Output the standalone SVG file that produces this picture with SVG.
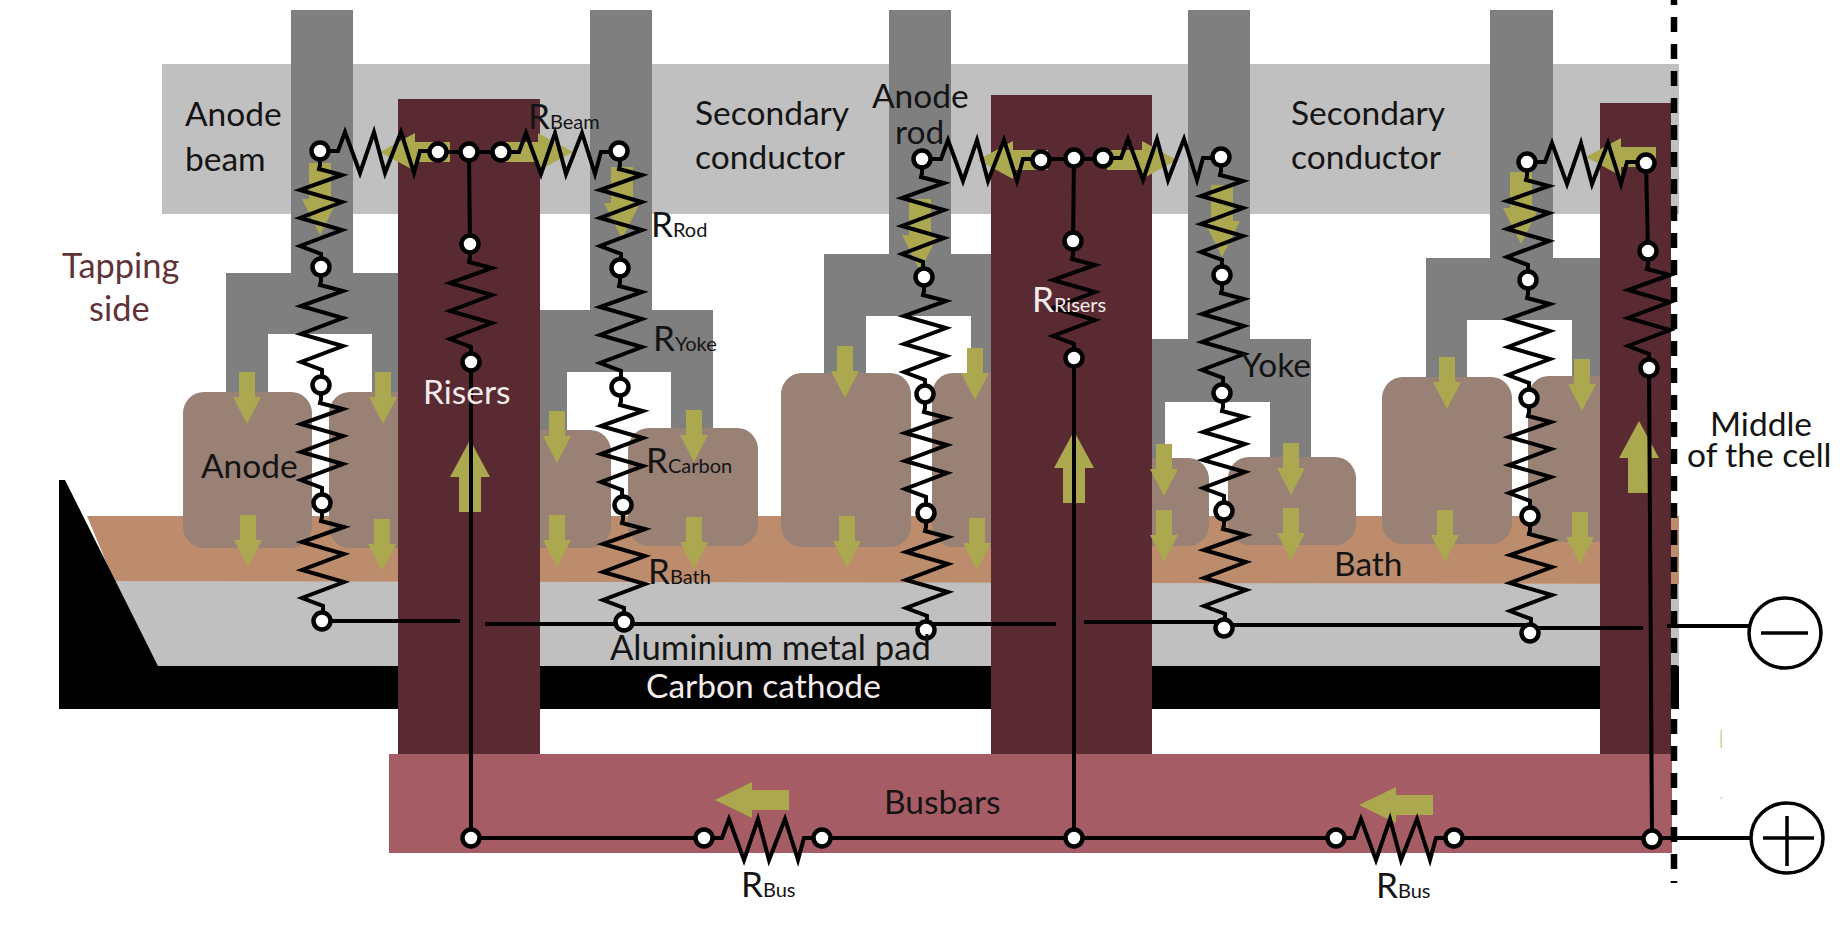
<svg xmlns="http://www.w3.org/2000/svg" width="1844" height="926" viewBox="0 0 1844 926">
<style>
text{font-family:"Lato","Open Sans","Liberation Sans",sans-serif;font-size:33.5px;fill:#141414}
.sub{font-size:20px}
.big{font-size:35px}
.lt{fill:#f4ecec}
.tap{fill:#5f3339;font-size:34.4px}
.beam{fill:#c0c0c0}
.rod{fill:#7f7f7f}
.anode{fill:#998176}
.bath{fill:#bc8c6c}
.riser{fill:#5a2a32}
.bus{fill:#a65c64}
.ar{fill:#aba850}
.w{fill:none;stroke:#000;stroke-width:4;stroke-linejoin:miter}
.n{fill:#fff;stroke:#000;stroke-width:4.5}
.t{fill:none;stroke:#000;stroke-width:3.5}
</style>
<defs>
<path id="dn" class="ar" d="M-8 0H8V25H14L0 52L-14 25H-8Z"/>
<path id="up" class="ar" d="M-11 72H11V37H20L0 0L-20 37H-11Z"/>
<path id="al" class="ar" d="M0 0L35 -19V-10H70V10H35V19Z"/>
<path id="ab" class="ar" d="M0 0L37 -18V-10H74V10H37V18Z"/>
<path id="rd" class="ar" d="M-11 0H11V36H18L0 72L-18 36H-11Z"/>
<path id="rv" class="w" d="M0 0V14L-1 18L22 24L-20 39L22 51L-20 67L22 79L-20 95L1 103V117"/>
<path id="rh" class="w" d="M0 0H18L25 -19L40 22L54 -19L65 22L81 -19L94 22L100 0H118"/>
<circle id="o" class="n" r="8.5"/>
</defs>
<rect width="1844" height="926" fill="#fff"/>
<g id="aluminium-pad"><path fill="#c0c0c0" d="M114 580L1679 584V666H158Z"/></g>
<g id="bath"><path class="bath" d="M87 516H1679V584L114 581Z"/></g>
<g id="anode-beam"><rect class="beam" x="162" y="64" width="1517" height="150"/></g>
<g id="anode-assembly-1">
<rect class="rod" x="291" y="10" width="62" height="264"/>
<path class="rod" d="M226 273H398V392H372V334H268V392H226Z"/>
<rect class="anode" x="183" y="392" width="129" height="156" rx="21"/>
<rect class="anode" x="329" y="392" width="100" height="156" rx="21"/>
</g>
<g id="anode-assembly-2">
<rect class="rod" x="590" y="10" width="62" height="301"/>
<path class="rod" d="M530 310H713V430H671V372H567V430H530Z"/>
<rect class="anode" x="510" y="430" width="101" height="118" rx="21"/>
<rect class="anode" x="628" y="428" width="130" height="118" rx="21"/>
</g>
<g id="anode-assembly-3">
<rect class="rod" x="889" y="10" width="62" height="245"/>
<path class="rod" d="M824 254H1000V373H971V316H866V373H824Z"/>
<rect class="anode" x="781" y="373" width="130" height="174" rx="21"/>
<rect class="anode" x="932" y="373" width="100" height="174" rx="21"/>
</g>
<g id="anode-assembly-4">
<rect class="rod" x="1188" y="10" width="62" height="330"/>
<path class="rod" d="M1140 339H1311V458H1270V402H1165V460H1140Z"/>
<rect class="anode" x="1120" y="458" width="89" height="88" rx="21"/>
<rect class="anode" x="1228" y="457" width="128" height="88" rx="21"/>
</g>
<g id="anode-assembly-5">
<rect class="rod" x="1490" y="10" width="63" height="249"/>
<path class="rod" d="M1426 258H1610V377H1572V320H1467V377H1426Z"/>
<rect class="anode" x="1382" y="377" width="130" height="167" rx="21"/>
<rect class="anode" x="1528" y="376" width="100" height="166" rx="21"/>
</g>
<g id="cathode"><path fill="#000" d="M59 480H65L158 666H1679V709H59Z"/></g>
<g id="riser-1"><rect class="riser" x="398" y="99" width="142" height="656"/></g>
<g id="riser-2"><rect class="riser" x="991" y="95" width="161" height="660"/></g>
<g id="riser-3"><rect class="riser" x="1600" y="103" width="71" height="652"/></g>
<g id="busbar"><rect class="bus" x="389" y="754" width="1283" height="99"/></g>
<g id="current-arrows">
<use href="#dn" x="247" y="372"/><use href="#dn" x="248" y="515"/>
<use href="#dn" x="383" y="372"/><use href="#dn" x="382" y="519"/>
<use href="#dn" x="557" y="411"/><use href="#dn" x="557" y="515"/>
<use href="#dn" x="694" y="410"/><use href="#dn" x="694" y="517"/>
<use href="#dn" x="845" y="346"/><use href="#dn" x="847" y="516"/>
<use href="#dn" x="975" y="348"/><use href="#dn" x="977" y="518"/>
<use href="#dn" x="1164" y="444"/><use href="#dn" x="1164" y="510"/>
<use href="#dn" x="1291" y="443"/><use href="#dn" x="1291" y="508"/>
<use href="#dn" x="1447" y="357"/><use href="#dn" x="1445" y="510"/>
<use href="#dn" x="1582" y="359"/><use href="#dn" x="1580" y="512"/>
<use href="#up" x="470" y="440"/><use href="#up" x="1074" y="431"/><use href="#up" x="1639" y="421"/>
<use href="#ab" x="715" y="800"/><use href="#ab" x="1359" y="805"/>
<use href="#al" x="380" y="152"/><use href="#al" transform="translate(573 152) scale(-1 1)"/>
<use href="#al" x="978" y="160"/><use href="#al" transform="translate(1177 160) scale(-1 1)"/>
<use href="#al" x="1586" y="157"/>
<use href="#rd" x="320" y="163"/><use href="#rd" x="622" y="167"/>
<use href="#rd" x="920" y="199"/><use href="#rd" x="1222" y="185"/>
<use href="#rd" x="1521" y="172"/>
</g>
<g id="connectors">
<path class="w" d="M322 621H460M485 624H1056M1084 622H1224M1224 625H1530M1530 628H1643M1667 626H1749M469 152L470 244M471 362V838M1074 158L1073 241M1074 358V838M1646 163L1648 251M1649 368L1652 839M471 838H704M822 838H1336M1454 838H1750M438 152H501M1041 159H1103"/>
<use href="#rh" x="320" y="151"/><use href="#rh" x="501" y="152"/>
<use href="#rh" x="923" y="159"/><use href="#rh" x="1103" y="158"/>
<use href="#rh" x="1527" y="162"/>
<use href="#rh" x="704" y="838"/><use href="#rh" x="1336" y="838"/>
<use href="#rv" x="320" y="151"/><use href="#rv" x="321" y="267"/><use href="#rv" x="321" y="385"/><use href="#rv" x="322" y="503"/>
<use href="#rv" x="620" y="151"/><use href="#rv" x="620" y="268"/><use href="#rv" x="621" y="387"/><use href="#rv" x="623" y="505"/>
<use href="#rv" x="922" y="159"/><use href="#rv" x="924" y="277"/><use href="#rv" x="925" y="394"/><use href="#rv" x="926" y="513"/>
<use href="#rv" x="1221" y="157"/><use href="#rv" x="1222" y="275"/><use href="#rv" x="1223" y="393"/><use href="#rv" x="1224" y="511"/>
<use href="#rv" x="1527" y="162"/><use href="#rv" x="1528" y="280"/><use href="#rv" x="1529" y="398"/><use href="#rv" x="1530" y="516"/>
<use href="#rv" x="470" y="244"/><use href="#rv" x="1073" y="241"/><use href="#rv" x="1648" y="251"/>
</g>
<g id="terminals">
<use href="#o" x="320" y="151"/><use href="#o" x="438" y="152"/><use href="#o" x="469" y="152"/><use href="#o" x="501" y="152"/><use href="#o" x="619" y="151"/>
<use href="#o" x="470" y="244"/><use href="#o" x="471" y="362"/><use href="#o" x="471" y="838"/>
<use href="#o" x="321" y="267"/><use href="#o" x="321" y="385"/><use href="#o" x="322" y="503"/><use href="#o" x="322" y="621"/>
<use href="#o" x="620" y="268"/><use href="#o" x="620" y="387"/><use href="#o" x="623" y="505"/><use href="#o" x="624" y="622"/>
<use href="#o" x="922" y="159"/><use href="#o" x="924" y="277"/><use href="#o" x="925" y="394"/><use href="#o" x="926" y="513"/><use href="#o" x="926" y="630"/>
<use href="#o" x="1041" y="160"/><use href="#o" x="1074" y="158"/><use href="#o" x="1103" y="158"/><use href="#o" x="1221" y="157"/>
<use href="#o" x="1073" y="241"/><use href="#o" x="1074" y="358"/><use href="#o" x="1074" y="838"/>
<use href="#o" x="1222" y="275"/><use href="#o" x="1222" y="393"/><use href="#o" x="1224" y="511"/><use href="#o" x="1224" y="628"/>
<use href="#o" x="1527" y="162"/><use href="#o" x="1528" y="280"/><use href="#o" x="1529" y="398"/><use href="#o" x="1530" y="516"/><use href="#o" x="1530" y="633"/>
<use href="#o" x="1646" y="163"/><use href="#o" x="1648" y="251"/><use href="#o" x="1649" y="368"/><use href="#o" x="1652" y="839"/>
<use href="#o" x="704" y="838"/><use href="#o" x="822" y="838"/><use href="#o" x="1336" y="838"/><use href="#o" x="1454" y="838"/>
</g>
<g id="mid-line"><path fill="none" stroke="#000" stroke-width="6.5" stroke-dasharray="15 12" stroke-dashoffset="-17" d="M1674 0V883"/></g>
<g id="minus-terminal"><ellipse class="t" cx="1785" cy="633" rx="36" ry="35"/><path class="t" d="M1761 633H1808"/></g>
<g id="plus-terminal"><ellipse class="t" cx="1787" cy="838" rx="36" ry="35"/><path class="t" d="M1763 838H1814M1787 816V866"/></g>
<rect x="1720.5" y="730" width="1.5" height="18" fill="#c6d48a"/>
<rect x="1720.5" y="797" width="2" height="2" fill="#d6e0a8"/>
<g id="labels">
<text x="185" y="126">Anode</text><text x="185" y="171">beam</text>
<text class="tap" x="62" y="278">Tapping</text><text class="tap" x="89" y="321">side</text>
<text x="528" y="129"><tspan class="big">R</tspan><tspan class="sub">Beam</tspan></text>
<text x="651" y="237"><tspan class="big">R</tspan><tspan class="sub">Rod</tspan></text>
<text x="653" y="351"><tspan class="big">R</tspan><tspan class="sub">Yoke</tspan></text>
<text x="646" y="473"><tspan class="big">R</tspan><tspan class="sub">Carbon</tspan></text>
<text x="648" y="584"><tspan class="big">R</tspan><tspan class="sub">Bath</tspan></text>
<text x="741" y="897"><tspan class="big">R</tspan><tspan class="sub">Bus</tspan></text>
<text x="1376" y="898"><tspan class="big">R</tspan><tspan class="sub">Bus</tspan></text>
<text class="lt" x="1032" y="312"><tspan class="big">R</tspan><tspan class="sub">Risers</tspan></text>
<text class="lt" x="423" y="404">Risers</text>
<text x="201" y="478">Anode</text>
<text x="695" y="125">Secondary</text><text x="695" y="169">conductor</text>
<text x="872" y="108">Anode</text><text x="895" y="144">rod</text>
<text x="1291" y="125">Secondary</text><text x="1291" y="169">conductor</text>
<text x="1241" y="377">Yoke</text>
<text x="1710" y="436">Middle</text><text x="1687" y="467">of the cell</text>
<text x="1334" y="576">Bath</text>
<text x="610" y="660" style="font-size:34.6px">Aluminium metal pad</text>
<text class="lt" x="646" y="698">Carbon cathode</text>
<text x="884" y="814">Busbars</text>
</g>
</svg>
